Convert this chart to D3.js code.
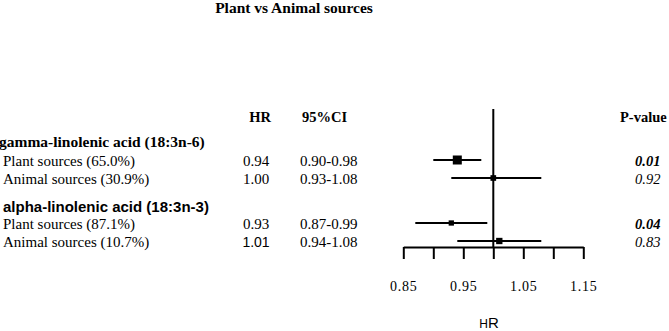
<!DOCTYPE html>
<html>
<head>
<meta charset="utf-8">
<script src="https://cdn.jsdelivr.net/npm/d3@7"></script>
<style>
  body { margin: 0; background: #fff; }
  svg { display: block; }
</style>
</head>
<body>
<svg id="chart" width="669" height="331"></svg>
<script>
// data
const groups = ["gamma-linolenic acid (18:3n-6)", "alpha-linolenic acid (18:3n-3)"];
const labels = ["Plant sources (65.0%)", "Animal sources (30.9%)", "Plant sources (87.1%)", "Animal sources (10.7%)"];
const rowGroup = [0, 0, 1, 1];
const hr = [0.94, 1.00, 0.93, 1.01];
const ciLow = [0.90, 0.93, 0.87, 0.94];
const ciHigh = [0.98, 1.08, 0.99, 1.08];
const pValues = ["0.01", "0.92", "0.04", "0.83"];
const weights = [81, 32, 28, 40];   // box area, roughly
const tickValues = [0.85, 0.90, 0.95, 1.00, 1.05, 1.10, 1.15];

const serif = "'Liberation Serif', 'Times New Roman', serif",
    sans = "'Liberation Sans', Arial, sans-serif";

const svg = d3.select("#chart");

// layout
const rowH = 18, groupGap = 63, firstRow = 160;
const rowY = (i) => {
    const g = rowGroup[i];
    const inGroup = i - rowGroup.indexOf(g);
    return firstRow + g * groupGap + inGroup * rowH;
};
const axisY = 247;

const x = d3.scaleLinear()
    .domain([0.85, 1.15])
    .range([403.3, 583.3]);

const size = d3.scaleSqrt()
    .domain([0, d3.max(weights)])
    .range([0, 9]);

// title
svg.append("text")
    .attr("x", 294).attr("y", 13)
    .attr("text-anchor", "middle")
    .style("font-family", serif).style("font-weight", "bold").style("font-size", "15.5px")
    .text("Plant vs Animal sources");

// column headers
const headers = [
    { t: "HR", x: 260, anchor: "middle" },
    { t: "95%CI", x: 302, anchor: "start" },
    { t: "P-value", x: 620, anchor: "start" }
];
svg.selectAll(".hdr").data(headers).join("text")
    .attr("class", "hdr")
    .attr("x", d => d.x).attr("y", 122)
    .attr("text-anchor", d => d.anchor)
    .style("font-family", serif).style("font-weight", "bold").style("font-size", "14.5px")
    .text(d => d.t);

// group headers (second one is set in a sans face in the original)
svg.selectAll(".grp").data(groups).join("text")
    .attr("class", "grp")
    .attr("x", (d, i) => i === 0 ? -1 : 3)
    .attr("y", (d, i) => rowY(rowGroup.indexOf(i)) - 13 + i * 2)
    .style("font-family", (d, i) => i === 0 ? serif : sans)
    .style("font-weight", "bold")
    .style("font-size", (d, i) => i === 0 ? "15.5px" : "15px")
    .text(d => d);

// row labels
svg.selectAll(".lbl").data(labels).join("text")
    .attr("class", "lbl")
    .attr("x", 3).attr("y", (d, i) => rowY(i) + 5.5)
    .style("font-family", serif).style("font-size", "15px")
    .text(d => d);

// HR column
const fmt = d3.format(".2f");
svg.selectAll(".hrv").data(hr).join("text")
    .attr("class", "hrv")
    .attr("x", 256).attr("y", (d, i) => rowY(i) + 5.5)
    .attr("text-anchor", "middle")
    .style("font-family", (d, i) => i === 3 ? sans : serif)
    .style("font-size", (d, i) => i === 3 ? "14px" : "15px")
    .text(d => fmt(d));

// CI column
svg.selectAll(".civ").data(hr).join("text")
    .attr("class", "civ")
    .attr("x", 300).attr("y", (d, i) => rowY(i) + 5.5)
    .style("font-family", serif).style("font-size", "15px")
    .text((d, i) => fmt(ciLow[i]) + "-" + fmt(ciHigh[i]));

// P-values
svg.selectAll(".pv").data(pValues).join("text")
    .attr("class", "pv")
    .attr("x", 635).attr("y", (d, i) => rowY(i) + 5.5)
    .style("font-family", serif).style("font-size", "14.5px")
    .style("font-style", "italic")
    .style("font-weight", d => +d < 0.05 ? "bold" : "normal")
    .text(d => d);

// reference line at HR = 1
svg.append("line")
    .attr("x1", x(1)).attr("x2", x(1))
    .attr("y1", 109).attr("y2", axisY)
    .attr("stroke", "#000").attr("stroke-width", 2);

// CI whiskers
svg.selectAll(".ci").data(hr).join("line")
    .attr("class", "ci")
    .attr("x1", (d, i) => x(ciLow[i])).attr("x2", (d, i) => x(ciHigh[i]))
    .attr("y1", (d, i) => rowY(i)).attr("y2", (d, i) => rowY(i))
    .attr("stroke", "#000").attr("stroke-width", 2);

// boxes
svg.selectAll(".box").data(hr).join("rect")
    .attr("class", "box")
    .attr("x", (d, i) => x(d) - size(weights[i]) / 2)
    .attr("y", (d, i) => rowY(i) - size(weights[i]) / 2)
    .attr("width", (d, i) => size(weights[i]))
    .attr("height", (d, i) => size(weights[i]))
    .attr("fill", "#000");

// x axis
const axis = d3.axisBottom(x)
    .tickValues(tickValues)
    .tickSize(12)
    .tickSizeOuter(0)
    .tickPadding(22)
    .tickFormat(d => [0.85, 0.95, 1.05, 1.15].some(v => Math.abs(v - d) < 1e-9) ? fmt(d) : "");

const gAxis = svg.append("g")
    .attr("transform", `translate(0,${axisY})`)
    .call(axis);
gAxis.select(".domain").attr("stroke-width", 2);
gAxis.selectAll(".tick line").attr("stroke-width", 2);
gAxis.selectAll(".tick text")
    .style("font-family", serif).style("font-size", "14px")
    .style("letter-spacing", "0.8px")
    .attr("fill", "#000");

// axis title, small-cap style H
const xt = svg.append("text")
    .attr("x", 489).attr("y", 328)
    .attr("text-anchor", "middle")
    .style("font-family", sans);
xt.append("tspan").style("font-size", "12px").text("H");
xt.append("tspan").style("font-size", "15px").text("R");
</script>
</body>
</html>
